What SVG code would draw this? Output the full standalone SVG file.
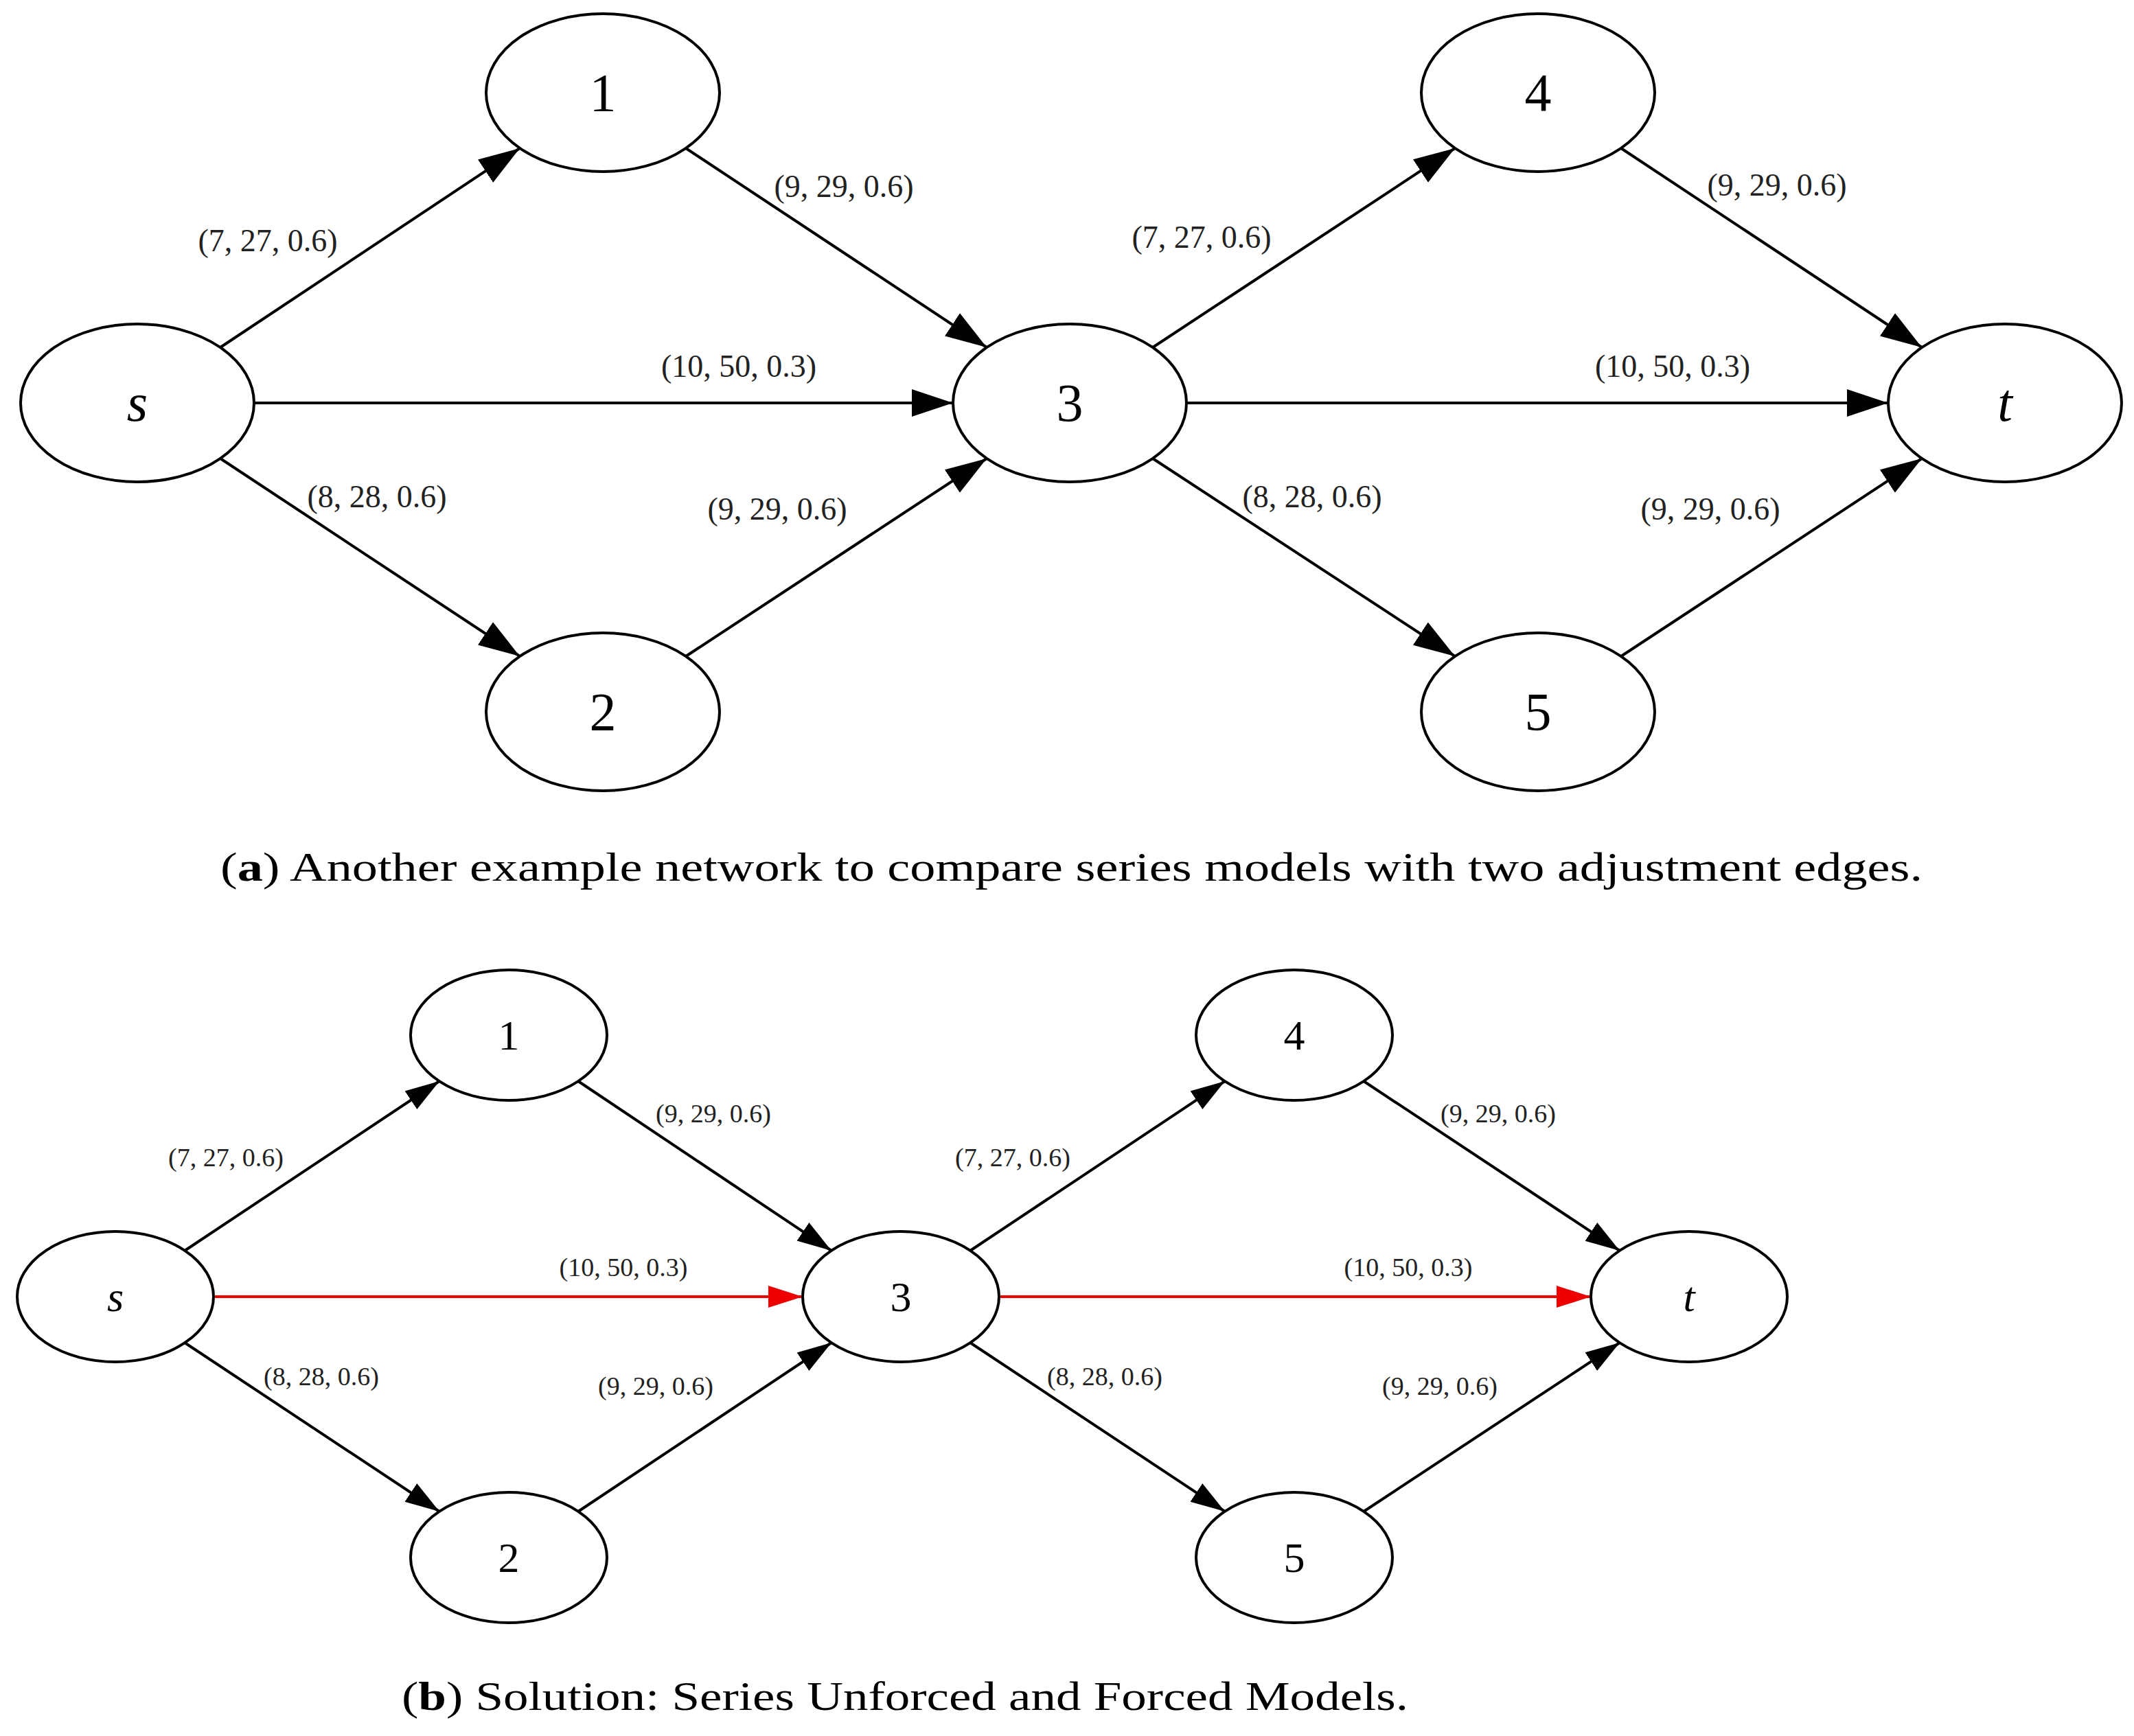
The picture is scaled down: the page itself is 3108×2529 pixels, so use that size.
<svg xmlns="http://www.w3.org/2000/svg" width="3108" height="2529" viewBox="0 0 3108 2529">
<style>
.n{fill:#fff;stroke:#000;stroke-width:4}
.e{stroke:#000;stroke-width:4;fill:none}
.r{stroke:#e00;stroke-width:4;fill:none}
text{font-family:"Liberation Serif","Times New Roman",serif;fill:#000}
.t1{font-size:78px;text-anchor:middle}
.t2{font-size:62px;text-anchor:middle}
.l1{font-size:46px;text-anchor:middle;fill:#222}
.l2{font-size:38px;text-anchor:middle;fill:#222}
.c{font-size:60px}
</style>
<defs>
<marker id="a" markerUnits="userSpaceOnUse" markerWidth="60" markerHeight="50" viewBox="0 0 60 50" refX="60" refY="25" orient="auto"><path d="M0,5 L60,25 L0,45 Z" fill="#000"/></marker>
<marker id="b" markerUnits="userSpaceOnUse" markerWidth="50" markerHeight="40" viewBox="0 0 50 40" refX="50" refY="20" orient="auto"><path d="M0,4 L50,20 L0,36 Z" fill="#000"/></marker>
<marker id="br" markerUnits="userSpaceOnUse" markerWidth="50" markerHeight="40" viewBox="0 0 50 40" refX="50" refY="20" orient="auto"><path d="M0,4 L50,20 L0,36 Z" fill="#e00"/></marker>
</defs>
<g id="edges">
<line class="e" x1="321" y1="506" x2="757" y2="216" marker-end="url(#a)"/>
<line class="e" x1="321" y1="668" x2="757" y2="956" marker-end="url(#a)"/>
<line class="e" x1="370" y1="587" x2="1388" y2="587" marker-end="url(#a)"/>
<line class="e" x1="999" y1="216" x2="1437" y2="506" marker-end="url(#a)"/>
<line class="e" x1="999" y1="956" x2="1437" y2="668" marker-end="url(#a)"/>
<line class="e" x1="1679" y1="506" x2="2119" y2="216" marker-end="url(#a)"/>
<line class="e" x1="1679" y1="668" x2="2119" y2="956" marker-end="url(#a)"/>
<line class="e" x1="1728" y1="587" x2="2750" y2="587" marker-end="url(#a)"/>
<line class="e" x1="2361" y1="216" x2="2799" y2="506" marker-end="url(#a)"/>
<line class="e" x1="2361" y1="956" x2="2799" y2="668" marker-end="url(#a)"/>

<line class="e" x1="269" y1="1822" x2="640" y2="1575" marker-end="url(#b)"/>
<line class="e" x1="269" y1="1956" x2="640" y2="2202" marker-end="url(#b)"/>
<line class="r" x1="311" y1="1889" x2="1169" y2="1889" marker-end="url(#br)"/>
<line class="e" x1="842" y1="1575" x2="1211" y2="1822" marker-end="url(#b)"/>
<line class="e" x1="842" y1="2202" x2="1211" y2="1956" marker-end="url(#b)"/>
<line class="e" x1="1413" y1="1822" x2="1784" y2="1575" marker-end="url(#b)"/>
<line class="e" x1="1413" y1="1956" x2="1784" y2="2202" marker-end="url(#b)"/>
<line class="r" x1="1455" y1="1889" x2="2317" y2="1889" marker-end="url(#br)"/>
<line class="e" x1="1986" y1="1575" x2="2359" y2="1822" marker-end="url(#b)"/>
<line class="e" x1="1986" y1="2202" x2="2359" y2="1956" marker-end="url(#b)"/>
</g>
<g id="labels">
<text class="l1" x="390" y="366">(7, 27, 0.6)</text>
<text class="l1" x="1229" y="287">(9, 29, 0.6)</text>
<text class="l1" x="1076" y="549">(10, 50, 0.3)</text>
<text class="l1" x="549" y="739">(8, 28, 0.6)</text>
<text class="l1" x="1132" y="757">(9, 29, 0.6)</text>
<text class="l1" x="1750" y="361">(7, 27, 0.6)</text>
<text class="l1" x="2588" y="285">(9, 29, 0.6)</text>
<text class="l1" x="2436" y="549">(10, 50, 0.3)</text>
<text class="l1" x="1911" y="739">(8, 28, 0.6)</text>
<text class="l1" x="2491" y="757">(9, 29, 0.6)</text>
<text class="l2" x="329" y="1699">(7, 27, 0.6)</text>
<text class="l2" x="1039" y="1635">(9, 29, 0.6)</text>
<text class="l2" x="908" y="1859">(10, 50, 0.3)</text>
<text class="l2" x="468" y="2018">(8, 28, 0.6)</text>
<text class="l2" x="955" y="2032">(9, 29, 0.6)</text>
<text class="l2" x="1475" y="1699">(7, 27, 0.6)</text>
<text class="l2" x="2182" y="1635">(9, 29, 0.6)</text>
<text class="l2" x="2051" y="1859">(10, 50, 0.3)</text>
<text class="l2" x="1609" y="2018">(8, 28, 0.6)</text>
<text class="l2" x="2097" y="2032">(9, 29, 0.6)</text>
</g>
<g id="a_s"><ellipse class="n" cx="200" cy="587" rx="170" ry="115"/><text class="t1" x="200" y="613" font-style="italic">s</text></g>
<g id="a_1"><ellipse class="n" cx="878" cy="135" rx="170" ry="115"/><text class="t1" x="878" y="161">1</text></g>
<g id="a_2"><ellipse class="n" cx="878" cy="1037" rx="170" ry="115"/><text class="t1" x="878" y="1063">2</text></g>
<g id="a_3"><ellipse class="n" cx="1558" cy="587" rx="170" ry="115"/><text class="t1" x="1558" y="613">3</text></g>
<g id="a_4"><ellipse class="n" cx="2240" cy="135" rx="170" ry="115"/><text class="t1" x="2240" y="161">4</text></g>
<g id="a_5"><ellipse class="n" cx="2240" cy="1037" rx="170" ry="115"/><text class="t1" x="2240" y="1063">5</text></g>
<g id="a_t"><ellipse class="n" cx="2920" cy="587" rx="170" ry="115"/><text class="t1" x="2920" y="613" font-style="italic">t</text></g>
<g id="b_s"><ellipse class="n" cx="168" cy="1889" rx="143" ry="95"/><text class="t2" x="168" y="1910" font-style="italic">s</text></g>
<g id="b_1"><ellipse class="n" cx="741" cy="1508" rx="143" ry="95"/><text class="t2" x="741" y="1529">1</text></g>
<g id="b_2"><ellipse class="n" cx="741" cy="2269" rx="143" ry="95"/><text class="t2" x="741" y="2290">2</text></g>
<g id="b_3"><ellipse class="n" cx="1312" cy="1889" rx="143" ry="95"/><text class="t2" x="1312" y="1910">3</text></g>
<g id="b_4"><ellipse class="n" cx="1885" cy="1508" rx="143" ry="95"/><text class="t2" x="1885" y="1529">4</text></g>
<g id="b_5"><ellipse class="n" cx="1885" cy="2269" rx="143" ry="95"/><text class="t2" x="1885" y="2290">5</text></g>
<g id="b_t"><ellipse class="n" cx="2460" cy="1889" rx="143" ry="95"/><text class="t2" x="2460" y="1910" font-style="italic">t</text></g>
<g id="captions">
<text class="c" x="321" y="1283" textLength="2479" lengthAdjust="spacingAndGlyphs">(<tspan font-weight="bold">a</tspan>) Another example network to compare series models with two adjustment edges.</text>
<text class="c" x="585" y="2491" textLength="1466" lengthAdjust="spacingAndGlyphs">(<tspan font-weight="bold">b</tspan>) Solution: Series Unforced and Forced Models.</text>
</g>
</svg>
